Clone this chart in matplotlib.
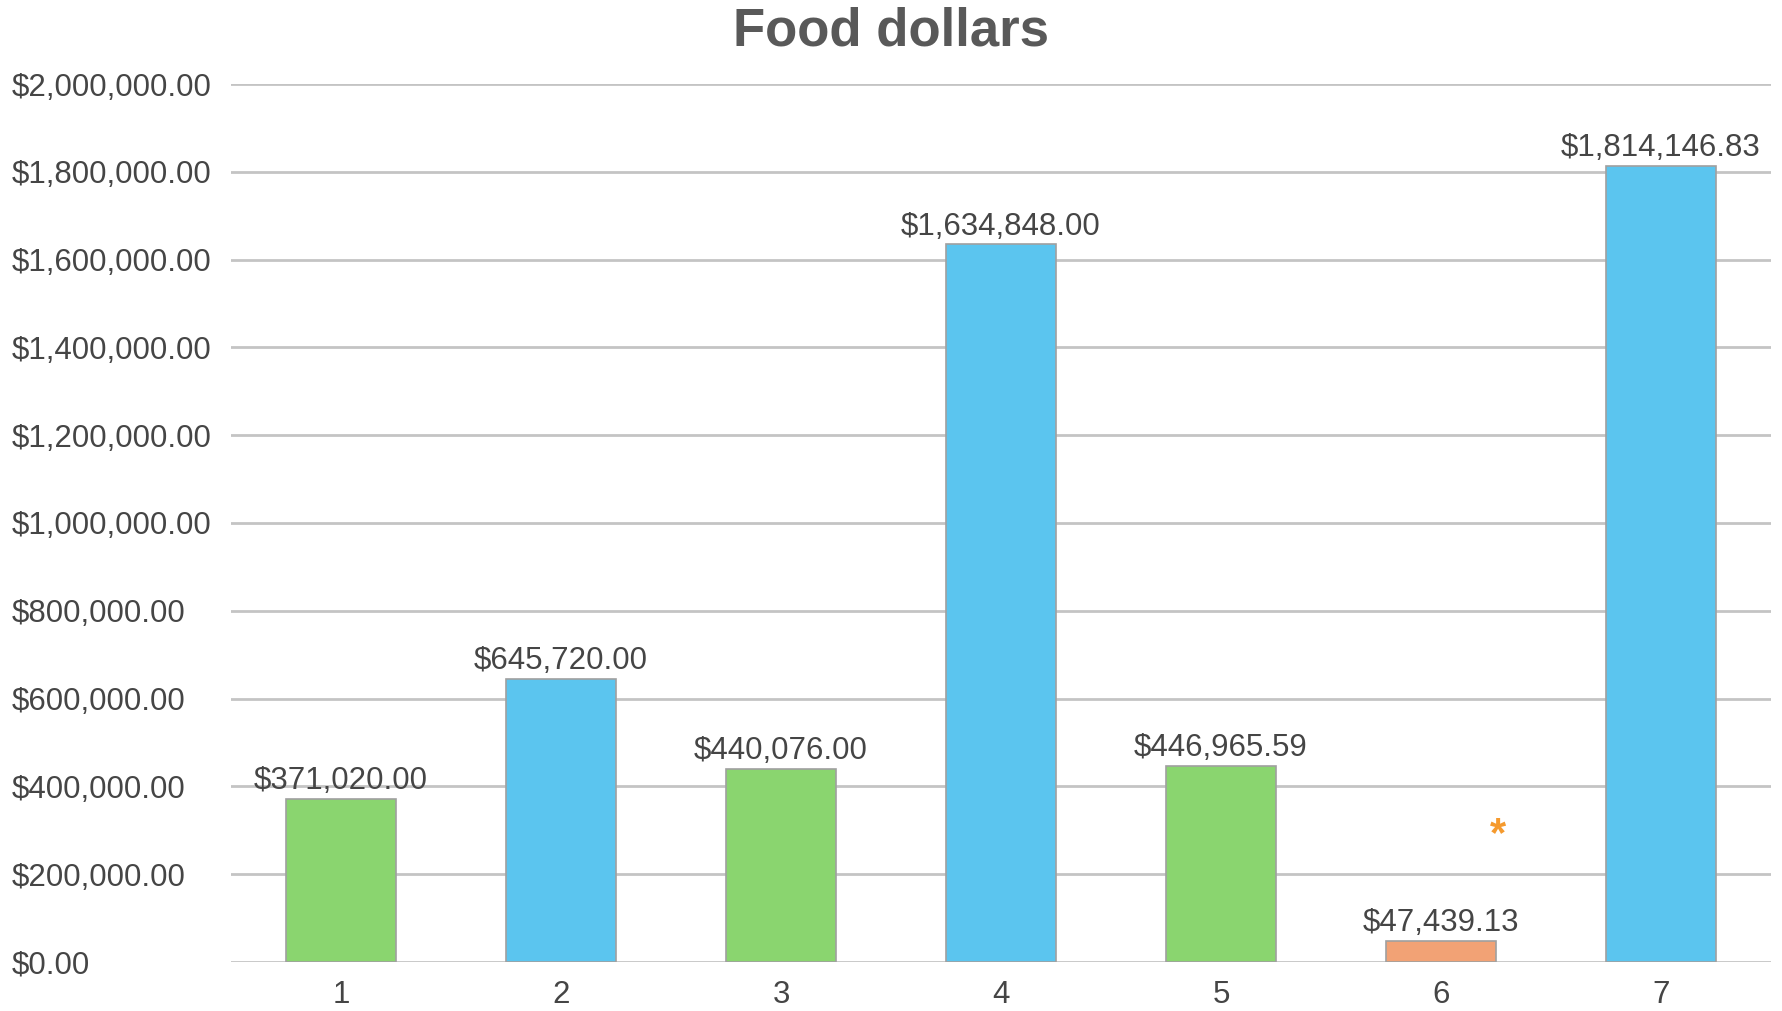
import matplotlib
matplotlib.use("Agg")
import matplotlib.pyplot as plt
from matplotlib.ticker import FuncFormatter

plt.rcParams['font.family'] = ['Liberation Sans', 'DejaVu Sans']

categories = ["1", "2", "3", "4", "5", "6", "7"]
values = [371020.00, 645720.00, 440076.00, 1634848.00, 446965.59, 47439.13, 1814146.83]
colors = ["#8ad56f", "#5bc5ef", "#8ad56f", "#5bc5ef", "#8ad56f", "#f2a275", "#5bc5ef"]
yticks = [0, 200000, 400000, 600000, 800000, 1000000, 1200000, 1400000, 1600000, 1800000, 2000000]
note_text = "*"
note_x = 5.26
note_y = 290000

fig = plt.figure(figsize=(17.83, 10.11), dpi=100)
ax = fig.add_axes([0.1296, 0.0485, 0.8637, 0.8684])

x = list(range(len(categories)))
bars = ax.bar(x, values, width=0.5, color=colors, edgecolor="#a0a0a0", linewidth=1.2, zorder=3)

ax.set_xlim(-0.5, len(categories) - 0.5)
ax.set_ylim(0, 2000000)
ax.set_yticks(yticks)
ax.yaxis.set_major_formatter(FuncFormatter(lambda v, p: "${:,.2f}".format(v)))
ax.set_xticks(x)
ax.set_xticklabels(categories)

ax.grid(axis='y', color="#c4c4c4", linewidth=2.0, zorder=0)
ax.set_axisbelow(True)
for s in ax.spines.values():
    s.set_visible(False)

fs = 22.5
ax.tick_params(axis='y', length=0, pad=158, labelsize=fs, labelcolor="#454545")
for lbl in ax.get_yticklabels():
    lbl.set_horizontalalignment('left')
ax.tick_params(axis='x', length=0, pad=13, labelsize=fs, labelcolor="#454545")

for b, v in zip(bars, values):
    ax.annotate("${:,.2f}".format(v), (b.get_x() + b.get_width() / 2, v),
                xytext=(0, 2), textcoords='offset points', ha='center', va='bottom',
                fontsize=fs, color="#454545", zorder=4)

ax.text(note_x, note_y, note_text, color="#f59a2e", fontsize=30, fontweight='bold',
        ha='center', va='center')

fig.text(0.5, 0.969, "Food dollars", ha='center', va='center', fontsize=38,
         fontweight='bold', color="#595959")

fig.savefig("out.png", dpi=100)
